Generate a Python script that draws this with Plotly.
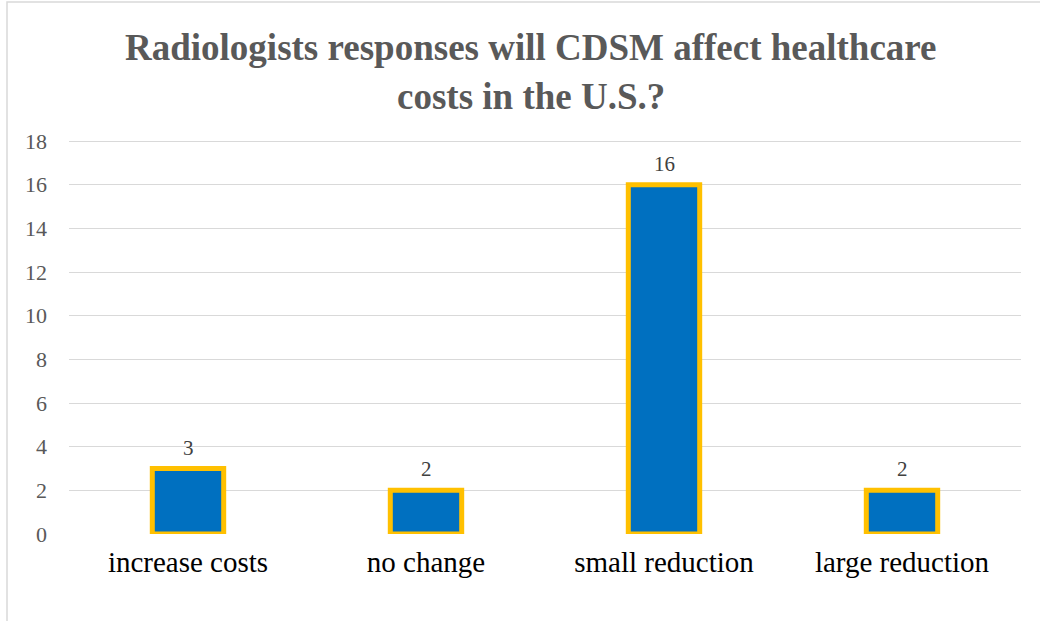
import plotly.graph_objects as go

categories = ["increase costs", "no change", "small reduction", "large reduction"]
values = [3, 2, 16, 2]
y_ticks = [0, 2, 4, 6, 8, 10, 12, 14, 16, 18]
title_lines = ["Radiologists responses will CDSM affect healthcare", "costs in the U.S.?"]

SERIF = "Liberation Serif"

fig = go.Figure()
fig.add_trace(go.Bar(
    x=categories, y=values,
    width=0.3,
    marker=dict(color="#0070C0", line=dict(color="#FFC000", width=5)),
    cliponaxis=False,
))

for c, v in zip(categories, values):
    fig.add_annotation(x=c, y=v, text=str(v), showarrow=False, yshift=21,
                       yanchor="middle",
                       font=dict(family=SERIF, size=21, color="#404040"))

H = 621
for i, line in enumerate(title_lines):
    fig.add_annotation(xref="paper", yref="paper", x=(531 - 69) / 952,
                       y=(H - 87 - [47, 97][i]) / (H - 87 - 135), yanchor="middle",
                       text="<b>" + line + "</b>", showarrow=False,
                       font=dict(family=SERIF, size=37, color="#595959"))

fig.update_layout(
    width=1040, height=H,
    margin=dict(l=69, r=19, t=135, b=87),
    paper_bgcolor="white", plot_bgcolor="white",
    showlegend=False,
    xaxis=dict(
        showgrid=False, showline=False, ticks="", ticklabelstandoff=8,
        tickfont=dict(family=SERIF, size=29, color="black"),
    ),
    yaxis=dict(
        range=[0, 399 / (393 / 18)], tickvals=y_ticks, showgrid=True, gridcolor="#d9d9d9", gridwidth=1.3,
        zeroline=False, showline=False, ticks="", ticklabelstandoff=21,
        tickfont=dict(family=SERIF, size=22, color="#595959"),
    ),
    shapes=[dict(type="rect", xref="paper", yref="paper",
                 x0=(7 - 69) / 952, x1=1.2, y0=-0.5, y1=(534 - 2) / 399,
                 line=dict(color="#d9d9d9", width=1.5), layer="below")],
)

fig.write_html("out.html")
